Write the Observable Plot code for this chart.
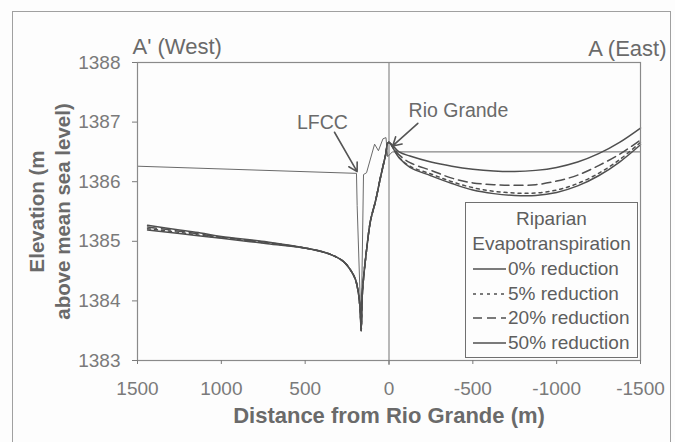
<!DOCTYPE html>
<html>
<head>
<meta charset="utf-8">
<script src="https://cdn.jsdelivr.net/npm/d3@7"></script>
<script src="https://cdn.jsdelivr.net/npm/@observablehq/plot@0.6"></script>
<style>
  body { margin: 0; background: #ffffff; }
  #wrap { position: relative; width: 675px; height: 442px; overflow: hidden; font-family: "Liberation Sans", Arial, sans-serif; background: #fdfdfd; }
  #chart { position: absolute; left: 0; top: 0; }
  #border { position: absolute; left: 12px; top: 11px; width: 657px; height: 470px; border: 1.5px solid #a0a0a0; pointer-events: none; }
  #legend { position: absolute; left: 465px; top: 202px; width: 173px; height: 156px; box-sizing: border-box; border: 1.2px solid #707070; background: #fdfdfd; color: #5e5e5e; font-size: 19px; }
  #legend .hd { position: absolute; left: 0; width: 100%; text-align: center; line-height: 20px; }
  #legend .it { position: absolute; left: 0; width: 100%; height: 22px; }
  #legend .it svg { position: absolute; left: 7px; top: 0; }
  #legend .it span { position: absolute; left: 42px; top: 0; line-height: 22px; white-space: nowrap; }
</style>
</head>
<body>
<div id="wrap">
  <div id="chart"></div>
  <div id="legend"></div>
  <div id="border"></div>
</div>
<script>
// ---- data ----
const distances = [1440, 1250, 1124, 1000, 725, 468, 349, 271, 230, 200, 182, 172, 166, 158, 134, 110, 80, 51, 21, 3,
                   -60, -125, -250, -375, -500, -625, -750, -875, -1000, -1125, -1250, -1375, -1500];
const westCommon = [1384.87, 1384.78, 1384.66, 1384.52, 1384.36, 1384.12, 1383.85, 1383.50, 1384.17, 1384.85, 1385.35, 1385.68, 1386.07, 1386.44, 1386.66];
const red0  = [1385.19, 1385.13, 1385.09, 1385.05, 1384.96, ...westCommon,
               1386.40, 1386.24, 1386.10, 1385.97, 1385.86, 1385.80, 1385.77, 1385.77, 1385.82, 1385.93, 1386.10, 1386.33, 1386.62];
const red5  = [1385.21, 1385.15, 1385.10, 1385.06, 1384.97, ...westCommon,
               1386.41, 1386.26, 1386.13, 1386.00, 1385.90, 1385.84, 1385.81, 1385.81, 1385.86, 1385.97, 1386.14, 1386.37, 1386.66];
const red20 = [1385.24, 1385.17, 1385.12, 1385.07, 1384.98, ...westCommon,
               1386.45, 1386.32, 1386.19, 1386.06, 1385.98, 1385.95, 1385.94, 1385.95, 1386.01, 1386.11, 1386.27, 1386.46, 1386.70];
const red50 = [1385.27, 1385.19, 1385.14, 1385.08, 1384.99, ...westCommon,
               1386.50, 1386.43, 1386.33, 1386.26, 1386.21, 1386.18, 1386.17, 1386.19, 1386.24, 1386.33, 1386.47, 1386.66, 1386.90];

// thin profile line (land surface / channels)
const groundDist = [1500, 194, 190, 166, 152, 134, 86, 63, 36, 18, 8, -20, -1500];
const groundElev = [1386.26, 1386.14, 1385.6, 1383.52, 1386.12, 1386.15, 1386.63, 1386.52, 1386.72, 1386.74, 1386.42, 1386.50, 1386.50];

const seriesNames = ["0% reduction", "5% reduction", "20% reduction", "50% reduction"];
const seriesValues = [red0, red5, red20, red50];
const seriesDash = [null, "3,4", "9,5", null];

const xTicks = [1500, 1000, 500, 0, -500, -1000, -1500];
const yTicks = [1383, 1384, 1385, 1386, 1387, 1388];

const xTitle = "Distance from Rio Grande (m)";
const yTitle = "Elevation (m\nabove mean sea level)";
const legendTitle = ["Riparian", "Evapotranspiration"];

// annotations: label positions and arrows (data coordinates)
const notes = [
  {text: "LFCC", dist: 397, elev: 1386.99, fromDist: 325, fromElev: 1386.83, toDist: 190, toElev: 1386.17},
  {text: "Rio Grande", dist: -414, elev: 1387.19, fromDist: -172, fromElev: 1386.98, toDist: -22, toElev: 1386.6}
];

// ---- build rows ----
const ground = groundDist.map((d, i) => ({dist: d, elev: groundElev[i]}));
const lineColor = "#4f4f4f";
const textColor = "#6a6a6a";

const seriesMarks = seriesNames.map((name, s) =>
  Plot.line(distances.map((d, i) => ({dist: d, elev: seriesValues[s][i], series: name})), {
    x: "dist", y: "elev", stroke: lineColor, strokeWidth: 1.5,
    strokeDasharray: seriesDash[s] || undefined, curve: "catmull-rom"
  })
);

const chart = Plot.plot({
  width: 675,
  height: 442,
  marginLeft: 137,
  marginRight: 35,
  marginTop: 62,
  marginBottom: 82,
  style: {background: "transparent", fontFamily: "'Liberation Sans', Arial, sans-serif"},
  x: {domain: [1500, -1500], ticks: xTicks},
  y: {domain: [1383, 1388], ticks: yTicks},
  marks: [
    Plot.ruleX([0], {stroke: "#8a8a8a", strokeWidth: 1.2, insetBottom: -5}),
    Plot.line(ground, {x: "dist", y: "elev", stroke: "#6a6a6a", strokeWidth: 1}),
    ...seriesMarks,
    Plot.frame({stroke: "#8a8a8a", strokeWidth: 1.2}),
    Plot.axisY({ticks: yTicks, tickSize: 5, tickPadding: 12, fontSize: 19, color: "#7a7a7a", tickFormat: d => String(d), label: null}),
    Plot.axisX({ticks: xTicks, tickSize: 4, tickPadding: 17, fontSize: 19, color: "#7a7a7a", tickFormat: d => String(d), label: null}),
    Plot.text([xTitle], {frameAnchor: "bottom", dy: 62, fontSize: 22, fontWeight: "bold", fill: textColor}),
    Plot.text([yTitle], {frameAnchor: "left", textAnchor: "middle", lineAnchor: "middle", dx: -89, rotate: -90, fontSize: 20.5, fontWeight: "bold", lineHeight: 1.3, fill: textColor}),
    Plot.text(["A' (West)"], {frameAnchor: "top-left", textAnchor: "start", dx: -5, dy: -24, fontSize: 22, fill: textColor}),
    Plot.text(["A (East)"], {frameAnchor: "top-right", textAnchor: "end", dx: 26, dy: -22, fontSize: 22, fill: textColor}),
    Plot.text(notes, {x: "dist", y: "elev", text: "text", fontSize: 19.5, fill: textColor}),
    Plot.arrow(notes, {x1: "fromDist", y1: "fromElev", x2: "toDist", y2: "toElev", stroke: "#555", strokeWidth: 1.6, headLength: 9})
  ]
});
document.getElementById("chart").appendChild(chart);

// ---- legend (overlay inside plot area) ----
const legend = document.getElementById("legend");
legendTitle.forEach((t, i) => {
  const d = document.createElement("div");
  d.className = "hd";
  d.style.top = (6 + i * 25) + "px";
  d.textContent = t;
  legend.appendChild(d);
});
seriesNames.forEach((name, s) => {
  const it = document.createElement("div");
  it.className = "it";
  it.style.top = (55 + s * 24.5) + "px";
  const dash = seriesDash[s] ? ` stroke-dasharray="${seriesDash[s]}"` : "";
  it.innerHTML = `<svg width="34" height="22"><line x1="0" y1="11" x2="33" y2="11" stroke="${lineColor}" stroke-width="1.5"${dash}/></svg><span>${name}</span>`;
  legend.appendChild(it);
});
</script>
</body>
</html>
